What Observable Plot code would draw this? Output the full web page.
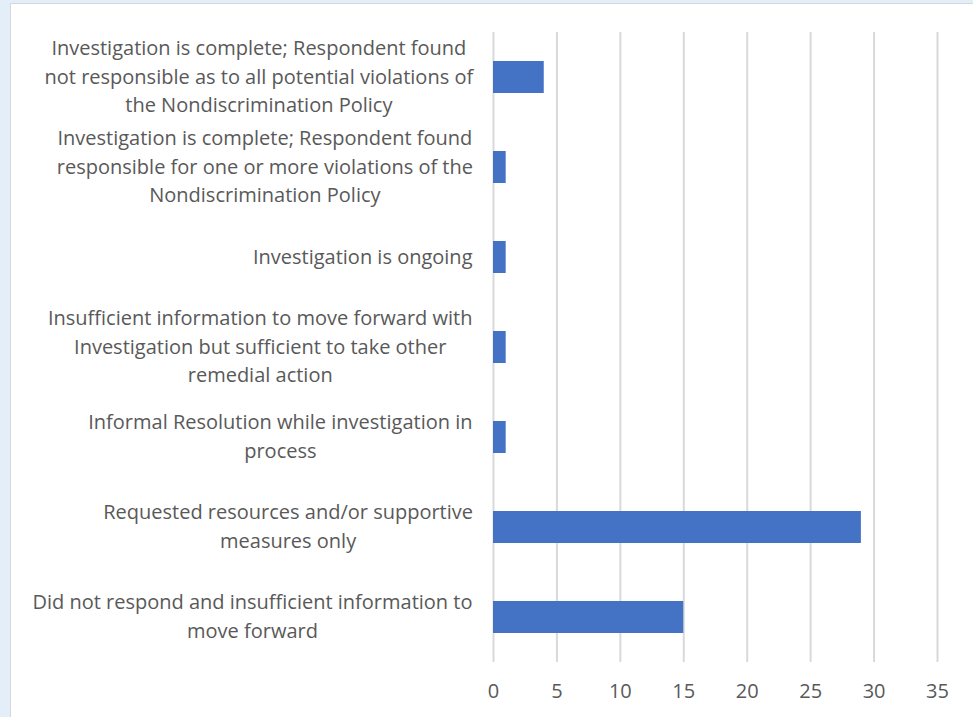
<!DOCTYPE html>
<html><head><meta charset="utf-8">
<script src="https://cdn.jsdelivr.net/npm/d3@7"></script>
<script src="https://cdn.jsdelivr.net/npm/@observablehq/plot@0.6"></script>
<style>
html,body{margin:0;padding:0;background:#e4eef9;width:973px;height:717px;overflow:hidden;}
#panel{position:absolute;left:10px;top:3px;width:970px;height:720px;background:#fff;border:1px solid #d4d8dc;box-sizing:border-box;}
#chart{position:absolute;left:0;top:0;}
</style>
</head><body>
<div id="panel"><div id="chart"></div></div>
<script>
const categories = [
  "Investigation is complete; Respondent found\nnot responsible as to all potential violations of\nthe Nondiscrimination Policy",
  "Investigation is complete; Respondent found\nresponsible for one or more violations of the\nNondiscrimination Policy",
  "Investigation is ongoing",
  "Insufficient information to move forward with\nInvestigation but sufficient to take other\nremedial action",
  "Informal Resolution while investigation in\nprocess",
  "Requested resources and/or supportive\nmeasures only",
  "Did not respond and insufficient information to\nmove forward"
];
const values = [4, 1, 1, 1, 1, 29, 15];
const xTicks = [0, 5, 10, 15, 20, 25, 30, 35];

const data = categories.map((c, i) => ({category: c, value: values[i]}));

const chart = Plot.plot({
  width: 962,
  height: 713,
  marginLeft: 482,
  marginRight: 36,
  marginTop: 28,
  marginBottom: 55,
  style: {fontFamily: "'Open Sans', sans-serif", fontSize: "20px", color: "#595959", background: "white"},
  x: {domain: [0, 35], ticks: xTicks, label: null},
  y: {domain: categories, paddingInner: 0.64, paddingOuter: 0.32, label: null},
  marks: [
    Plot.gridX(xTicks, {stroke: "#d9d9d9", strokeOpacity: 1, strokeWidth: 2}),
    Plot.barX(data, {x: "value", y: "category", fill: "#4472c4"}),
    Plot.axisX({ticks: xTicks, tickSize: 0, tickPadding: 21, fontSize: 20, fill: "#595959"}),
    Plot.axisY({tickSize: 0, tickPadding: 21, fontSize: 20, fill: "#595959", lineHeight: 1.42, dy: -3})
  ]
});
document.getElementById("chart").appendChild(chart);

// center lines of each multi-line label within its right-aligned block
chart.querySelectorAll('g[aria-label="y-axis tick label"] text').forEach(t => {
  const spans = t.querySelectorAll("tspan");
  if (spans.length < 2) return;
  const bb = t.getBBox();
  const cx = bb.x + bb.width / 2;
  t.setAttribute("text-anchor", "middle");
  spans.forEach(s => s.setAttribute("x", cx));
});
</script>
</body></html>
